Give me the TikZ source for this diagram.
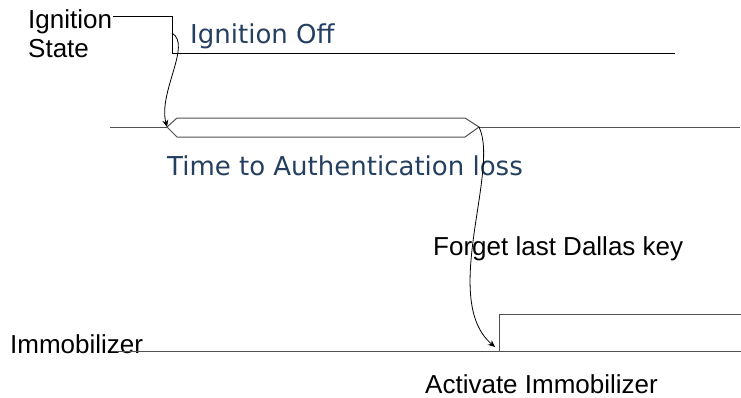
\documentclass[tikz,border=0pt]{standalone}
\usepackage{fontspec}
\setmainfont{Liberation Sans}
\newfontfamily\labelfont{DejaVu Sans}
\usetikzlibrary{arrows.meta}
\definecolor{labelblue}{HTML}{243F60}
\definecolor{busgray}{HTML}{505050}
\tikzset{
  signal/.style={line width=1pt, draw=black},
  busline/.style={line width=1pt, draw=busgray},
  event/.style={line width=0.8pt, -{Stealth[length=7pt,width=6pt]}},
  plain/.style={anchor=base west, inner sep=0pt, font=\fontsize{26}{29}\selectfont},
  phase/.style={anchor=base west, inner sep=0pt, text=labelblue, font=\labelfont\fontsize{26}{30}\selectfont},
}
\begin{document}
\begin{tikzpicture}[x=1pt, y=-1pt]
\useasboundingbox (0,0) rectangle (741,397);

% signal names and event labels
\node[plain, align=left] (ign) at (28,57) {Ignition\\State};
\node[plain] (imm) at (10,353) {Immobilizer};
\node[phase] (off) at (190,43) {Ignition Off};
\node[phase] (auth) at (167,175) {Time to Authentication loss};
\node[plain] (forget) at (433,255) {Forget last Dallas key};
\node[plain] (act) at (425,393) {Activate Immobilizer};

% key points of the waveforms
\coordinate (ignfall) at (172,33);
\coordinate (busL) at (167,127);
\coordinate (busR) at (479,127);
\coordinate (immrise) at (495,347);

% ignition state: high, then falls to off
\draw[signal] (113,16) -- (172,16) -- (172,53) -- (675,53);

% authentication timeout bus
\draw[busline] (110,127) -- (busL);
\draw[busline] (busL) -- (177,118) -- (465,118) -- (busR) -- (465,137) -- (177,137) -- cycle;
\draw[busline] (busR) -- (740,127);

% immobilizer: low, then activated
\draw[busline] (117,351) -- (499,351) -- (499,314) -- (741,314);
\draw[busline] (499,351) -- (741,351);

% cause and effect arrows
\draw[event] (ignfall) .. controls (192,45) and (158,92) .. (busL);
\draw[event] (busR) .. controls (500,170) and (440,300) .. (immrise);
\end{tikzpicture}
\end{document}
